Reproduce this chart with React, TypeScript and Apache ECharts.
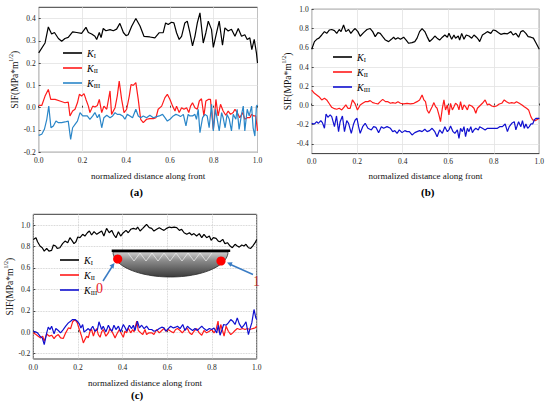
import React, { useEffect, useRef } from 'react';
import * as echarts from 'echarts';

const FONT = 'Liberation Serif, Times New Roman, serif';

const xTicks = [0, 0.2, 0.4, 0.6, 0.8, 1.0];
const yTicksA = [-0.2, -0.1, 0, 0.1, 0.2, 0.3, 0.4];
const yTicksB = [-0.4, -0.2, 0, 0.2, 0.4, 0.6, 0.8, 1.0];
const yTicksC = [-0.2, 0, 0.2, 0.4, 0.6, 0.8, 1.0];

const legendLabels: Record<string, string> = { KI: 'I', KII: 'II', KIII: 'III' };

// Panel (a)
const kIA = [[0,0.246],[0.029,0.29],[0.044,0.362],[0.059,0.33],[0.072,0.337],[0.09,0.31],[0.105,0.298],[0.12,0.31],[0.135,0.315],[0.155,0.34],[0.174,0.337],[0.196,0.333],[0.216,0.36],[0.227,0.337],[0.242,0.33],[0.257,0.32],[0.265,0.306],[0.277,0.337],[0.285,0.314],[0.295,0.355],[0.307,0.345],[0.326,0.35],[0.341,0.345],[0.356,0.352],[0.371,0.378],[0.387,0.337],[0.399,0.323],[0.409,0.327],[0.425,0.365],[0.444,0.4],[0.463,0.366],[0.481,0.32],[0.508,0.317],[0.531,0.313],[0.551,0.336],[0.569,0.336],[0.58,0.38],[0.592,0.373],[0.607,0.383],[0.618,0.38],[0.63,0.336],[0.642,0.306],[0.653,0.32],[0.668,0.38],[0.679,0.388],[0.691,0.336],[0.703,0.277],[0.714,0.32],[0.725,0.38],[0.737,0.425],[0.752,0.29],[0.764,0.336],[0.775,0.388],[0.79,0.35],[0.798,0.27],[0.813,0.336],[0.825,0.388],[0.84,0.28],[0.851,0.358],[0.866,0.344],[0.881,0.352],[0.897,0.32],[0.912,0.355],[0.927,0.32],[0.942,0.327],[0.953,0.306],[0.965,0.313],[0.974,0.26],[0.985,0.306],[0.995,0.246],[1.0,0.2]];
const kIIA = [[0,0.01],[0.014,0.01],[0.029,0.052],[0.044,0.082],[0.055,0.037],[0.075,0.037],[0.097,0.03],[0.12,0.022],[0.135,0.025],[0.143,-0.037],[0.155,-0.015],[0.166,-0.007],[0.177,0.022],[0.186,0.06],[0.196,0.052],[0.207,0.063],[0.216,0.037],[0.227,0.007],[0.234,-0.022],[0.247,0.007],[0.257,0.003],[0.268,0.01],[0.277,0.037],[0.288,-0.022],[0.298,0.007],[0.311,-0.007],[0.326,0.075],[0.333,-0.03],[0.349,0],[0.359,0.052],[0.368,0.119],[0.379,0.037],[0.39,-0.022],[0.402,-0.007],[0.414,0.052],[0.422,0.104],[0.432,0.1],[0.444,0.112],[0.455,0.037],[0.466,-0.052],[0.478,-0.067],[0.493,-0.052],[0.508,-0.049],[0.524,-0.049],[0.536,-0.045],[0.546,-0.007],[0.562,0.007],[0.577,0.045],[0.588,0.06],[0.6,0.037],[0.612,0.007],[0.623,-0.015],[0.63,0.007],[0.642,-0.022],[0.653,0],[0.664,-0.007],[0.676,0],[0.686,-0.022],[0.694,0.007],[0.703,0.022],[0.714,0],[0.725,-0.007],[0.734,0.03],[0.744,0.04],[0.755,-0.037],[0.764,0.03],[0.775,0.037],[0.785,0.037],[0.798,-0.097],[0.81,0.037],[0.82,-0.037],[0.831,0.015],[0.843,-0.015],[0.855,-0.034],[0.866,-0.015],[0.877,-0.03],[0.889,-0.022],[0.897,-0.007],[0.907,-0.022],[0.919,-0.045],[0.932,-0.022],[0.942,-0.052],[0.953,-0.045],[0.965,-0.045],[0.973,-0.03],[0.983,-0.037],[0.992,-0.037],[1.0,-0.104]];
const kIIIA = [[0,-0.124],[0.014,-0.119],[0.026,-0.097],[0.037,-0.052],[0.046,0.007],[0.056,-0.09],[0.067,-0.082],[0.079,-0.06],[0.09,-0.067],[0.105,-0.067],[0.12,-0.064],[0.135,-0.06],[0.146,-0.142],[0.155,-0.09],[0.166,-0.075],[0.177,-0.06],[0.189,-0.022],[0.201,-0.037],[0.212,-0.037],[0.222,-0.037],[0.234,-0.052],[0.247,-0.037],[0.257,-0.022],[0.268,-0.045],[0.277,-0.03],[0.288,-0.09],[0.298,-0.045],[0.311,-0.034],[0.326,-0.045],[0.338,-0.037],[0.349,-0.022],[0.359,-0.03],[0.371,-0.03],[0.384,-0.037],[0.394,-0.052],[0.405,-0.03],[0.417,-0.037],[0.429,-0.045],[0.444,-0.007],[0.455,-0.037],[0.466,-0.045],[0.478,-0.037],[0.493,-0.045],[0.508,-0.034],[0.524,-0.045],[0.539,-0.04],[0.551,-0.037],[0.566,-0.03],[0.577,-0.045],[0.588,-0.06],[0.6,-0.052],[0.615,-0.037],[0.627,-0.03],[0.638,-0.034],[0.648,-0.04],[0.661,-0.03],[0.673,-0.082],[0.683,-0.03],[0.691,-0.037],[0.703,-0.037],[0.714,-0.03],[0.721,-0.052],[0.729,-0.007],[0.737,-0.112],[0.749,-0.045],[0.76,-0.03],[0.77,-0.037],[0.779,-0.09],[0.79,0.015],[0.798,-0.104],[0.808,-0.007],[0.816,-0.052],[0.825,-0.104],[0.836,-0.022],[0.843,-0.045],[0.852,-0.09],[0.861,-0.03],[0.871,-0.052],[0.881,-0.104],[0.889,-0.03],[0.901,-0.052],[0.907,-0.007],[0.916,-0.097],[0.927,-0.03],[0.935,0.007],[0.942,-0.104],[0.953,-0.007],[0.962,-0.037],[0.973,0.007],[0.98,-0.09],[0.988,-0.127],[0.995,0.007],[1.0,0.013]];

// Panel (b)
const kIB = [[0,0.584],[0.012,0.664],[0.022,0.688],[0.032,0.7],[0.044,0.733],[0.056,0.768],[0.066,0.75],[0.078,0.785],[0.088,0.79],[0.1,0.778],[0.11,0.75],[0.121,0.79],[0.129,0.768],[0.14,0.837],[0.15,0.768],[0.162,0.79],[0.172,0.75],[0.184,0.785],[0.191,0.8],[0.203,0.768],[0.213,0.72],[0.228,0.757],[0.243,0.79],[0.257,0.8],[0.268,0.768],[0.279,0.716],[0.291,0.757],[0.301,0.75],[0.312,0.716],[0.324,0.68],[0.338,0.664],[0.35,0.688],[0.36,0.71],[0.368,0.688],[0.379,0.705],[0.39,0.688],[0.404,0.71],[0.415,0.68],[0.426,0.647],[0.441,0.653],[0.453,0.664],[0.463,0.7],[0.474,0.768],[0.485,0.8],[0.497,0.768],[0.507,0.716],[0.518,0.664],[0.529,0.688],[0.541,0.722],[0.551,0.7],[0.562,0.68],[0.574,0.71],[0.585,0.733],[0.596,0.71],[0.603,0.75],[0.615,0.688],[0.625,0.733],[0.632,0.7],[0.644,0.722],[0.65,0.68],[0.659,0.75],[0.669,0.688],[0.679,0.733],[0.691,0.722],[0.703,0.7],[0.713,0.733],[0.724,0.71],[0.732,0.688],[0.738,0.664],[0.75,0.733],[0.762,0.75],[0.772,0.768],[0.787,0.75],[0.797,0.785],[0.809,0.778],[0.821,0.757],[0.831,0.74],[0.846,0.75],[0.86,0.745],[0.875,0.768],[0.885,0.733],[0.897,0.75],[0.909,0.71],[0.919,0.768],[0.929,0.778],[0.941,0.75],[0.951,0.716],[0.963,0.71],[0.974,0.7],[0.985,0.653],[1.0,0.584]];
const kIIB = [[0,0.161],[0.012,0.127],[0.022,0.11],[0.032,0.092],[0.044,0.058],[0.056,0.075],[0.066,0.058],[0.076,0.023],[0.088,-0.019],[0.1,-0.033],[0.11,-0.039],[0.121,-0.029],[0.132,-0.046],[0.144,-0.012],[0.15,0.006],[0.159,-0.029],[0.169,-0.029],[0.179,0.058],[0.191,0.016],[0.201,-0.046],[0.213,0.006],[0.224,0.023],[0.235,0.04],[0.247,0.04],[0.257,0.051],[0.268,0.03],[0.279,0.023],[0.291,0.016],[0.301,0.04],[0.312,0.064],[0.324,0.04],[0.335,0.04],[0.346,0.023],[0.356,0.03],[0.368,0.023],[0.379,0.04],[0.39,0.023],[0.404,0.016],[0.419,0.023],[0.434,0.016],[0.449,0.023],[0.463,0.04],[0.474,0.058],[0.485,0.11],[0.493,0.058],[0.5,0.04],[0.507,-0.046],[0.515,-0.081],[0.522,-0.046],[0.529,-0.012],[0.537,0.03],[0.544,-0.012],[0.551,-0.029],[0.559,-0.098],[0.566,-0.168],[0.574,-0.029],[0.581,0.058],[0.588,-0.046],[0.596,0.006],[0.603,-0.098],[0.61,0.023],[0.618,-0.046],[0.625,-0.012],[0.632,0.023],[0.64,0.006],[0.647,-0.046],[0.654,0.04],[0.662,-0.046],[0.669,0.006],[0.676,-0.012],[0.684,-0.046],[0.691,0.006],[0.703,-0.005],[0.713,-0.029],[0.721,-0.081],[0.728,-0.029],[0.738,-0.005],[0.75,0.023],[0.762,0.058],[0.772,0.006],[0.779,0.016],[0.791,-0.005],[0.801,-0.012],[0.812,-0.005],[0.824,0.016],[0.835,0.023],[0.846,0.058],[0.856,0.04],[0.868,0.023],[0.879,0.03],[0.89,0.023],[0.9,0.04],[0.912,0.023],[0.924,0.006],[0.934,-0.012],[0.944,-0.029],[0.953,-0.046],[0.963,-0.116],[0.971,-0.15],[0.982,-0.157],[0.993,-0.143],[1.0,-0.133]];
const kIIIB = [[0,-0.185],[0.012,-0.192],[0.022,-0.168],[0.029,-0.185],[0.04,-0.157],[0.047,-0.178],[0.056,-0.237],[0.063,-0.088],[0.071,-0.123],[0.081,-0.098],[0.088,-0.116],[0.1,-0.22],[0.109,-0.109],[0.118,-0.272],[0.125,-0.168],[0.135,-0.109],[0.144,-0.272],[0.154,-0.157],[0.162,-0.185],[0.174,-0.289],[0.184,-0.192],[0.191,-0.15],[0.199,-0.133],[0.206,-0.22],[0.213,-0.289],[0.224,-0.22],[0.235,-0.185],[0.247,-0.237],[0.262,-0.254],[0.272,-0.22],[0.282,-0.227],[0.294,-0.282],[0.306,-0.22],[0.316,-0.237],[0.331,-0.22],[0.346,-0.237],[0.356,-0.272],[0.365,-0.261],[0.375,-0.289],[0.385,-0.254],[0.397,-0.282],[0.409,-0.261],[0.419,-0.272],[0.429,-0.272],[0.441,-0.306],[0.453,-0.282],[0.463,-0.272],[0.474,-0.261],[0.485,-0.272],[0.497,-0.247],[0.507,-0.272],[0.518,-0.261],[0.529,-0.237],[0.541,-0.272],[0.551,-0.324],[0.562,-0.254],[0.574,-0.289],[0.585,-0.22],[0.596,-0.272],[0.603,-0.254],[0.61,-0.213],[0.621,-0.272],[0.629,-0.289],[0.64,-0.254],[0.647,-0.341],[0.654,-0.237],[0.662,-0.272],[0.669,-0.22],[0.676,-0.324],[0.684,-0.237],[0.691,-0.272],[0.699,-0.22],[0.706,-0.282],[0.713,-0.254],[0.721,-0.237],[0.732,-0.254],[0.738,-0.22],[0.75,-0.237],[0.762,-0.254],[0.772,-0.237],[0.782,-0.237],[0.794,-0.237],[0.806,-0.237],[0.816,-0.237],[0.826,-0.22],[0.838,-0.22],[0.85,-0.192],[0.86,-0.272],[0.868,-0.22],[0.879,-0.185],[0.89,-0.168],[0.897,-0.254],[0.909,-0.168],[0.919,-0.22],[0.926,-0.157],[0.934,-0.237],[0.941,-0.192],[0.949,-0.237],[0.956,-0.22],[0.963,-0.192],[0.971,-0.192],[0.978,-0.15],[0.985,-0.133],[1.0,-0.133]];

// Panel (c)
const kIC = [[0,0.866],[0.012,0.882],[0.019,0.844],[0.03,0.804],[0.04,0.788],[0.049,0.757],[0.06,0.782],[0.07,0.757],[0.082,0.763],[0.09,0.813],[0.1,0.804],[0.107,0.782],[0.119,0.788],[0.131,0.826],[0.142,0.85],[0.154,0.835],[0.164,0.882],[0.175,0.85],[0.182,0.826],[0.191,0.844],[0.199,0.888],[0.209,0.882],[0.221,0.913],[0.231,0.897],[0.242,0.928],[0.251,0.944],[0.261,0.907],[0.272,0.938],[0.284,0.913],[0.294,0.928],[0.306,0.944],[0.316,0.897],[0.328,0.969],[0.34,0.928],[0.351,0.95],[0.361,0.907],[0.37,0.882],[0.381,0.938],[0.391,0.897],[0.403,0.928],[0.415,0.95],[0.425,0.928],[0.436,0.96],[0.448,0.969],[0.46,0.96],[0.467,0.981],[0.478,0.944],[0.49,0.969],[0.5,0.991],[0.507,1.006],[0.519,0.975],[0.53,0.969],[0.54,0.944],[0.552,0.96],[0.564,0.975],[0.575,0.96],[0.585,0.95],[0.597,0.969],[0.609,0.981],[0.619,0.975],[0.63,0.981],[0.642,0.975],[0.654,0.95],[0.664,0.96],[0.675,0.928],[0.687,0.913],[0.699,0.928],[0.709,0.907],[0.719,0.92],[0.731,0.897],[0.743,0.92],[0.754,0.882],[0.764,0.913],[0.776,0.882],[0.788,0.897],[0.796,0.857],[0.806,0.882],[0.818,0.875],[0.828,0.85],[0.836,0.844],[0.848,0.866],[0.858,0.826],[0.869,0.835],[0.881,0.804],[0.891,0.788],[0.903,0.82],[0.913,0.804],[0.922,0.794],[0.933,0.813],[0.943,0.804],[0.952,0.82],[0.963,0.788],[0.973,0.782],[0.982,0.804],[0.993,0.835],[1.0,0.866]];
const kIIC = [[0,-0.006],[0.012,-0.022],[0.022,-0.037],[0.033,-0.053],[0.042,-0.037],[0.049,-0.084],[0.06,-0.016],[0.072,-0.037],[0.082,-0.028],[0.093,-0.059],[0.101,-0.037],[0.112,-0.022],[0.122,-0.053],[0.134,-0.059],[0.145,-0.006],[0.157,0.04],[0.167,0.034],[0.176,0.097],[0.187,0.118],[0.197,0.087],[0.206,0.025],[0.216,-0.037],[0.224,-0.1],[0.231,-0.069],[0.239,-0.037],[0.246,-0.053],[0.254,0.009],[0.261,0.025],[0.269,-0.037],[0.276,0.009],[0.284,0.034],[0.291,-0.022],[0.299,-0.047],[0.306,0.003],[0.313,0.025],[0.325,-0.037],[0.336,-0.006],[0.343,0.034],[0.355,-0.006],[0.366,-0.053],[0.373,-0.022],[0.385,0.025],[0.396,-0.022],[0.403,-0.047],[0.41,0.009],[0.418,-0.006],[0.425,0.04],[0.436,-0.006],[0.445,0.025],[0.451,0.003],[0.463,0.103],[0.47,0.016],[0.481,-0.006],[0.49,-0.022],[0.5,0.025],[0.507,-0.022],[0.518,-0.006],[0.53,-0.006],[0.54,-0.022],[0.552,0.025],[0.564,-0.006],[0.575,0.016],[0.585,0.034],[0.594,0.009],[0.604,0.025],[0.615,0.009],[0.627,-0.006],[0.637,0.025],[0.646,0.034],[0.657,0.016],[0.667,-0.006],[0.679,0.025],[0.69,0.034],[0.699,-0.006],[0.709,-0.022],[0.719,0.009],[0.731,0.034],[0.743,-0.006],[0.754,-0.028],[0.764,0.016],[0.776,-0.006],[0.788,0.009],[0.799,0.025],[0.809,-0.006],[0.818,0.025],[0.827,0.103],[0.833,-0.006],[0.839,0.072],[0.848,0.009],[0.854,-0.037],[0.863,0.056],[0.873,0.009],[0.884,-0.022],[0.893,-0.006],[0.903,0.016],[0.913,0.034],[0.925,0.025],[0.937,0.034],[0.948,0.025],[0.958,0.034],[0.97,0.025],[0.982,0.034],[0.993,0.04],[1.0,0.056]];
const kIIIC = [[0,0.009],[0.01,0.003],[0.019,-0.006],[0.03,-0.037],[0.04,-0.053],[0.049,-0.115],[0.06,-0.006],[0.067,0.047],[0.075,0.025],[0.082,0.056],[0.093,-0.016],[0.101,0.034],[0.112,0.016],[0.122,-0.006],[0.134,0.025],[0.145,0.056],[0.157,0.087],[0.167,0.103],[0.176,0.118],[0.187,0.118],[0.197,0.103],[0.206,0.078],[0.213,0.04],[0.221,0.072],[0.227,0.003],[0.236,0.016],[0.246,0.034],[0.254,0.016],[0.266,0.056],[0.276,0.009],[0.287,0.025],[0.294,0.097],[0.306,0.025],[0.313,0.056],[0.325,0.003],[0.336,0.065],[0.343,0.034],[0.352,0.009],[0.361,0.065],[0.37,0.025],[0.381,0.056],[0.391,0.003],[0.403,0.072],[0.413,0.034],[0.418,0.009],[0.43,0.065],[0.44,0.034],[0.448,0.065],[0.455,0.016],[0.466,0.103],[0.475,0.04],[0.485,0.065],[0.496,0.034],[0.507,0.056],[0.518,0.025],[0.53,0.025],[0.54,0.009],[0.552,0.016],[0.564,0.034],[0.575,0.047],[0.585,0.04],[0.594,0.009],[0.604,0.034],[0.615,0.056],[0.627,0.04],[0.637,0.047],[0.645,0.056],[0.657,0.034],[0.669,0.072],[0.679,0.016],[0.69,0.056],[0.701,0.034],[0.713,0.016],[0.724,0.034],[0.734,0.016],[0.746,0.04],[0.754,0.056],[0.764,0.034],[0.776,0.016],[0.788,0.034],[0.799,0.025],[0.809,0.04],[0.821,-0.006],[0.828,0.065],[0.836,-0.028],[0.845,0.025],[0.852,0.072],[0.863,0.065],[0.873,0.087],[0.884,0.118],[0.893,0.103],[0.903,0.072],[0.913,0.134],[0.922,0.078],[0.933,0.04],[0.943,0.065],[0.952,0.097],[0.963,-0.022],[0.97,0.034],[0.978,0.087],[0.988,0.212],[0.996,0.134],[1.0,0.118]];

const COLOR_I = '#000000';
const COLOR_II = '#ff1a1a';
const COLOR_III_A = '#2a86c8';
const COLOR_III_BC = '#1010d0';

const fmt = (v: number) => v.toFixed(1);

function makeX(gridIndex: number, nameGap: number, dotted: boolean) {
  return {
    type: 'value', gridIndex, min: 0, max: 1,
    name: 'normalized distance along front', nameLocation: 'middle', nameGap,
    nameTextStyle: { fontFamily: FONT, fontSize: 9, color: '#111' },
    axisLine: { show: false },
    axisTick: { show: true, inside: true, length: 2, customValues: xTicks, lineStyle: { color: '#444' } },
    axisLabel: { customValues: xTicks, formatter: fmt, fontFamily: FONT, fontSize: 7.5, color: '#222', margin: 4 },
    splitLine: { show: true, lineStyle: { color: dotted ? '#c4c4c4' : '#e2e2e2', width: 0.8, type: dotted ? 'dotted' : 'solid' } },
  };
}

function makeY(gridIndex: number, min: number, max: number, ticks: number[], dotted: boolean) {
  return {
    type: 'value', gridIndex, min, max,
    name: '{b|SIF(MPa*m}{s|1/2}{b|)}', nameLocation: 'middle', nameGap: 17,
    nameTextStyle: {
      fontFamily: FONT, fontSize: 9.5, color: '#111',
      rich: {
        b: { fontFamily: FONT, fontSize: 9.5, lineHeight: 12, verticalAlign: 'bottom', color: '#111' },
        s: { fontFamily: FONT, fontSize: 6, lineHeight: 7, verticalAlign: 'top', color: '#111' },
      },
    },
    axisLine: { show: false },
    axisTick: { show: true, inside: true, length: 2, customValues: ticks, lineStyle: { color: '#444' } },
    axisLabel: { customValues: ticks, formatter: fmt, fontFamily: FONT, fontSize: 7.5, color: '#222', margin: 3 },
    splitLine: { show: true, lineStyle: { color: dotted ? '#c4c4c4' : '#e2e2e2', width: 0.8, type: dotted ? 'dotted' : 'solid' } },
  };
}

function makeLegend(prefix: string, left: number, top: number) {
  return {
    data: ['KI', 'KII', 'KIII'].map((k) => prefix + k),
    orient: 'vertical', left, top,
    icon: 'rect', itemWidth: 19, itemHeight: 1.6, itemGap: 4,
    selectedMode: false,
    formatter: (name: string) => '{k|K}{s|' + legendLabels[name.slice(prefix.length)] + '}',
    textStyle: {
      rich: {
        k: { fontFamily: FONT, fontSize: 10, fontStyle: 'italic', lineHeight: 12, verticalAlign: 'middle', color: '#000' },
        s: { fontFamily: FONT, fontSize: 6.5, lineHeight: 7, verticalAlign: 'bottom', color: '#000' },
      },
    },
  };
}

function line(name: string, data: number[][], color: string, idx: number) {
  return {
    type: 'line', name, data, xAxisIndex: idx, yAxisIndex: idx,
    showSymbol: false, symbol: 'none',
    lineStyle: { color, width: 1.2 },
    itemStyle: { color },
  };
}

export default function App() {
  const ref = useRef<HTMLDivElement>(null);
  useEffect(() => {
    if (!ref.current) return;
    const chart = echarts.init(ref.current, undefined, { renderer: 'svg' });

    const cx = 170.5, cy = 252, rx = 57.5, ry = 25;
    const ellipse: number[][] = [];
    for (let i = 0; i <= 48; i++) {
      const t = (Math.PI * i) / 48;
      ellipse.push([cx + rx * Math.cos(t), cy + ry * Math.sin(t)]);
    }
    const zig: number[][] = [];
    for (let i = 0; i <= 14; i++) {
      zig.push([128 + i * 6, i % 2 === 0 ? 253 : 261]);
    }

    const gridBase = { show: true, borderColor: '#3a3a3a', borderWidth: 1, backgroundColor: 'transparent', containLabel: false };

    chart.setOption({
      animation: false,
      backgroundColor: '#ffffff',
      textStyle: { fontFamily: FONT },
      grid: [
        { ...gridBase, left: 38.7, top: 7.3, width: 218.8, height: 145 },
        { ...gridBase, left: 311.7, top: 9.3, width: 227.6, height: 144.3 },
        { ...gridBase, left: 33.3, top: 214.3, width: 223.4, height: 144.7 },
      ],
      xAxis: [makeX(0, 19, false), makeX(1, 18, false), makeX(2, 19, true)],
      yAxis: [
        makeY(0, -0.2, 0.45, yTicksA, false),
        makeY(1, -0.5, 1.0, yTicksB, false),
        makeY(2, -0.25, 1.1, yTicksC, true),
      ],
      legend: [makeLegend('a_', 58, 43), makeLegend('b_', 328, 47), makeLegend('c_', 55, 250)],
      series: [
        line('a_KI', kIA, COLOR_I, 0),
        line('a_KII', kIIA, COLOR_II, 0),
        line('a_KIII', kIIIA, COLOR_III_A, 0),
        line('b_KI', kIB, COLOR_I, 1),
        line('b_KII', kIIB, COLOR_II, 1),
        line('b_KIII', kIIIB, COLOR_III_BC, 1),
        line('c_KI', kIC, COLOR_I, 2),
        line('c_KII', kIIC, COLOR_II, 2),
        line('c_KIII', kIIIC, COLOR_III_BC, 2),
      ],
      graphic: [
        { type: 'text', left: 130, top: 186, style: { text: '(a)', font: 'bold 11px ' + FONT, fill: '#000' } },
        { type: 'text', left: 421, top: 186, style: { text: '(b)', font: 'bold 11px ' + FONT, fill: '#000' } },
        { type: 'text', left: 131, top: 389, style: { text: '(c)', font: 'bold 11px ' + FONT, fill: '#000' } },
        {
          type: 'polygon', z: 100,
          shape: { points: ellipse },
          style: {
            fill: new echarts.graphic.LinearGradient(0, 0, 0, 1, [
              { offset: 0, color: '#d0d0d0' },
              { offset: 0.35, color: '#8a8a8a' },
              { offset: 1, color: '#3c3c3c' },
            ]),
            stroke: '#2a2a2a', lineWidth: 0.8,
          },
        },
        { type: 'polyline', z: 101, shape: { points: zig }, style: { stroke: '#f4f4f4', lineWidth: 0.7, fill: 'none' } },
        { type: 'rect', z: 102, shape: { x: 111.7, y: 249.5, width: 118.5, height: 2.6 }, style: { fill: '#000' } },
        { type: 'circle', z: 103, shape: { cx: 117.7, cy: 259, r: 4.6 }, style: { fill: '#ff0000' } },
        { type: 'circle', z: 103, shape: { cx: 221, cy: 261, r: 4.6 }, style: { fill: '#ff0000' } },
        { type: 'line', z: 103, shape: { x1: 103, y1: 281, x2: 112.5, y2: 266 }, style: { stroke: '#3a7cc4', lineWidth: 1.5 } },
        { type: 'polygon', z: 103, shape: { points: [[114.5, 263], [113.5, 268.5], [109.5, 265.5]] }, style: { fill: '#3a7cc4' } },
        { type: 'line', z: 103, shape: { x1: 253, y1: 274.5, x2: 230.5, y2: 264.5 }, style: { stroke: '#3a7cc4', lineWidth: 1.5 } },
        { type: 'polygon', z: 103, shape: { points: [[227, 262.5], [232.6, 262.2], [230.6, 266.8]] }, style: { fill: '#3a7cc4' } },
        { type: 'text', z: 103, left: 96, top: 281, style: { text: '0', font: '14px ' + FONT, fill: '#e8202a' } },
        { type: 'text', z: 103, left: 253, top: 274, style: { text: '1', font: '14px ' + FONT, fill: '#c0302a' } },
      ],
    });
    return () => chart.dispose();
  }, []);
  return (
    <div
      ref={ref}
      style={{ position: 'absolute', left: 0, top: 0, width: 550, height: 414, background: '#fff' }}
    />
  );
}
